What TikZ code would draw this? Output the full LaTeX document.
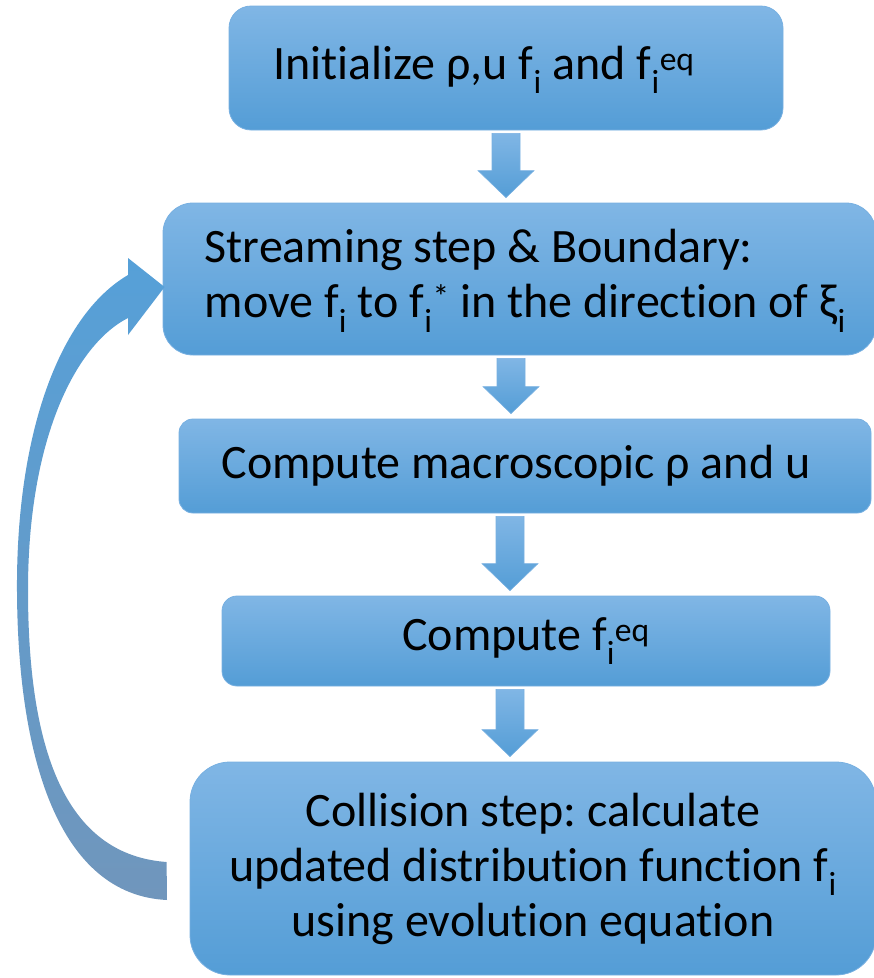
\documentclass[tikz,border=0pt]{standalone}
\usepackage{fontspec}
\setmainfont[RawFeature={-liga;-clig;-dlig;-calt;-rlig}]{Carlito}
\usetikzlibrary{calc}
\definecolor{boxtop}{RGB}{128,182,229}
\definecolor{boxbot}{RGB}{84,157,214}
\definecolor{boxedge}{RGB}{120,176,225}
\definecolor{looptop}{RGB}{86,160,216}
\definecolor{loopmid}{RGB}{92,156,210}
\definecolor{loopbot}{RGB}{112,150,188}
\tikzset{
    stepbox/.style = {rectangle, draw=boxedge, line width=0.8pt, top color=boxtop, bottom color=boxbot, inner sep=0pt},
    boxtext/.style = {align=center, inner sep=0pt, text=black, font=\fontsize{48}{55}\selectfont},
    downarrow/.style = {draw=boxedge, line width=0.6pt, top color=boxtop, bottom color=boxbot},
    looparrow/.style = {top color=looptop, middle color=loopmid, bottom color=loopbot}
}
\newcommand{\fsub}[2]{f\textsubscript{#1}\textsuperscript{#2}}
\frenchspacing
\begin{document}
\begin{tikzpicture}[x=1pt, y=-1pt]
    \useasboundingbox (0,0) rectangle (874,978);
    \clip (0,0) rectangle (874,978);

    % boxes
    \node [stepbox, rounded corners=22pt, minimum width=554pt, minimum height=124pt] (init) at (506,68) {};
    \node [stepbox, rounded corners=30pt, minimum width=713pt, minimum height=152pt] (stream) at (519.5,279) {};
    \node [stepbox, rounded corners=14pt, minimum width=692pt, minimum height=94pt] (macro) at (525,466) {};
    \node [stepbox, rounded corners=15pt, minimum width=608pt, minimum height=90pt] (feq) at (526,641) {};
    \node [stepbox, rounded corners=40pt, minimum width=686pt, minimum height=213pt] (coll) at (533,868.5) {};

    % texts
    \node [boxtext] (init text) at ($(init.center)+(-22,2)$) {Initialize ρ,u f\textsubscript{i} and \fsub{i}{eq}};
    \node [boxtext, align=left, anchor=west] (stream text) at ($(stream.west)+(42,2)$)
        {Streaming step \& Boundary:\\move f\textsubscript{i} to \fsub{i}{*} in the direction of ξ\textsubscript{i}};
    \node [boxtext] (macro text) at ($(macro.center)+(-9,0)$) {Compute macroscopic ρ and u};
    \node [boxtext] (feq text) at (feq.center) {Compute \fsub{i}{eq}};
    \node [boxtext] (coll text) at (coll.center)
        {Collision step: calculate\\updated distribution function f\textsubscript{i}\\using evolution equation};

    % block arrows between the steps
    \foreach \a/\b/\c in {init/stream/506, stream/macro/511, macro/feq/510, feq/coll/510}
        \path [downarrow] let \p1 = (\a.south), \p2 = (\b.north) in
            ({(\c-14)*1pt}, {\y1-3pt}) -- ({(\c+14)*1pt}, {\y1-3pt}) -- ({(\c+14)*1pt}, {\y2+32pt})
            -- ({(\c+28)*1pt}, {\y2+32pt}) -- ({\c*1pt}, {\y2+5pt}) -- ({(\c-28)*1pt}, {\y2+32pt})
            -- ({(\c-14)*1pt}, {\y2+32pt}) -- cycle;

    % loop back from collision to streaming
    \coordinate (loop in) at ($(coll.west)+(-23,-6.5)$);
    \coordinate (loop tip) at ($(stream.west)+(2,8)$);
    \path [looparrow] (loop in) .. controls (70,855) and (28,760) .. (28,590)
        .. controls (28,440) and (75,345) .. (128,318) -- (128,335) -- (loop tip) -- (128,258) -- (128,275)
        .. controls (60,315) and (18,430) .. (17,580) .. controls (16,760) and (60,895) .. (167,900) -- cycle;
\end{tikzpicture}
\end{document}
